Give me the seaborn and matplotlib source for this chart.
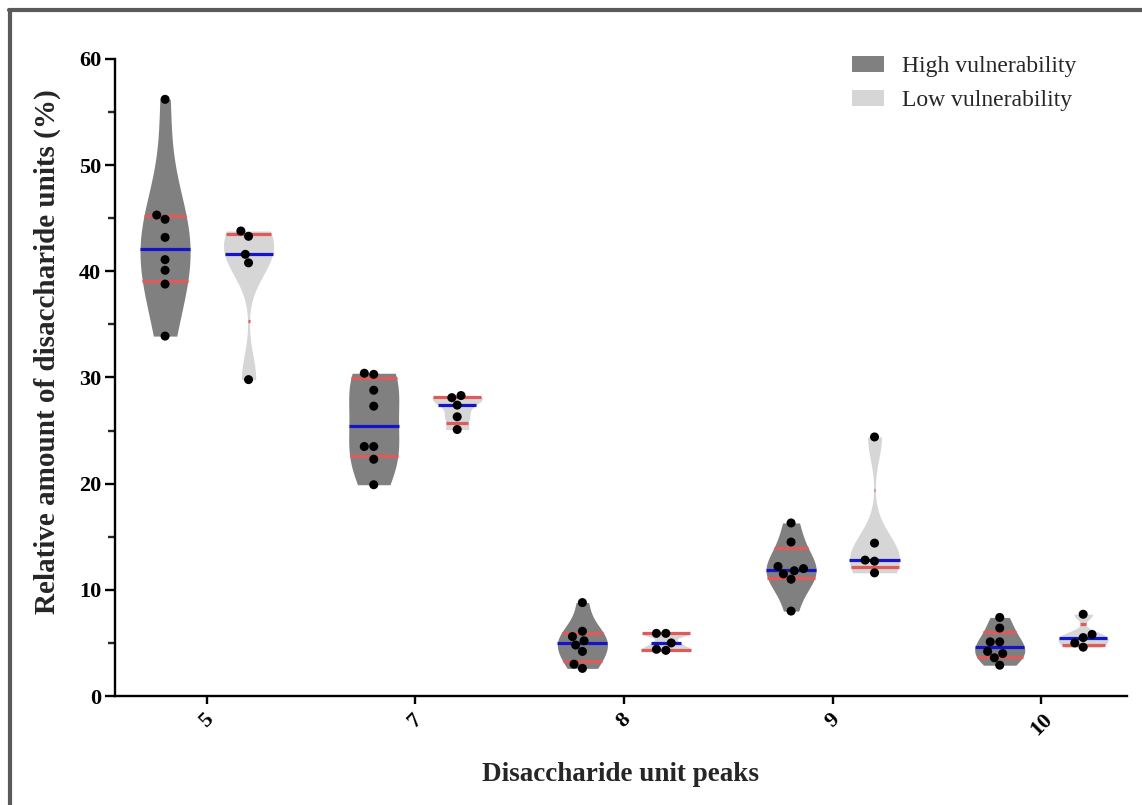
import numpy as np
import pandas as pd
import matplotlib
matplotlib.use("Agg")
import matplotlib.pyplot as plt
from matplotlib.patches import Patch
from matplotlib.lines import Line2D
from matplotlib.ticker import MultipleLocator
import seaborn as sns

# ---------------- data ----------------
peaks = ["5", "7", "8", "9", "10"]
groups = ["High vulnerability", "Low vulnerability"]

high_5 = [56.2, 45.3, 44.9, 43.2, 41.1, 40.1, 38.8, 33.9]
low_5 = [43.8, 43.3, 41.6, 40.8, 29.8]
high_7 = [30.4, 30.3, 28.8, 27.3, 23.5, 23.5, 22.3, 19.9]
low_7 = [28.3, 28.1, 27.4, 26.3, 25.1]
high_8 = [8.8, 6.1, 5.6, 5.2, 4.8, 4.2, 3.0, 2.6]
low_8 = [5.9, 5.9, 5.0, 4.4, 4.3]
high_9 = [16.3, 14.5, 12.2, 12.0, 11.8, 11.5, 11.0, 8.0]
low_9 = [24.4, 14.4, 12.8, 12.7, 11.6]
high_10 = [7.4, 6.4, 5.1, 5.1, 4.2, 4.0, 3.6, 2.9]
low_10 = [7.7, 5.8, 5.5, 5.0, 4.6]

high_values = [high_5, high_7, high_8, high_9, high_10]
low_values = [low_5, low_7, low_8, low_9, low_10]

violin_colors = ["#808080", "#d6d6d6"]
group_bw = [1.1, 0.55]
median_color = "#1414c8"
quart_color = "#e05a5a"
frame_color = "#5a5a5a"

rows = []
for p, hv, lv in zip(peaks, high_values, low_values):
    for v in hv:
        rows.append((p, groups[0], v))
    for v in lv:
        rows.append((p, groups[1], v))
df = pd.DataFrame(rows, columns=["peak", "group", "value"])
data_lookup = {(i, 0): high_values[i] for i in range(len(peaks))}
data_lookup.update({(i, 1): low_values[i] for i in range(len(peaks))})


def violin_id(coll):
    verts = coll.get_paths()[0].vertices
    cx = (verts[:, 0].min() + verts[:, 0].max()) / 2
    ci = int(round(cx))
    hi = 0 if cx < ci else 1
    return verts, cx, ci, hi


# ---------------- style ----------------
sns.set_style("ticks")
plt.rcParams["font.family"] = ["Liberation Serif", "DejaVu Serif"]

fig = plt.figure(figsize=(11.42, 8.05), dpi=100)
ax = fig.add_axes([115 / 1142, 1 - 696 / 805, (1127 - 115) / 1142, (696 - 59) / 805])

# each group gets its own KDE smoothing: draw all, keep that group's violins
for gi, bw in enumerate(group_bw):
    n_before = len(ax.collections)
    sns.violinplot(
        data=df, x="peak", y="value", hue="group",
        order=peaks, hue_order=groups, palette=violin_colors,
        cut=0, inner=None, density_norm="width", width=0.8, gap=0.4,
        bw_adjust=bw, linewidth=0, saturation=1, legend=False, ax=ax,
    )
    for coll in list(ax.collections[n_before:]):
        if violin_id(coll)[3] != gi:
            coll.remove()

# median (blue) and quartile (red) lines, spanning the violin width
for coll in list(ax.collections):
    verts, cx, ci, hi = violin_id(coll)
    vals = np.asarray(data_lookup[(ci, hi)])
    q1, med, q3 = np.percentile(vals, [25, 50, 75], method="weibull")
    right = verts[verts[:, 0] >= cx]
    order = np.argsort(right[:, 1])
    ys, xs = right[order, 1], right[order, 0]
    for q, col in [(q1, quart_color), (q3, quart_color), (med, median_color)]:
        half = np.interp(q, ys, xs) - cx
        half = max(half, 0.004)
        ax.plot([cx - half, cx + half], [q, q], color=col, lw=2.3,
                solid_capstyle="butt", zorder=2)

sns.swarmplot(
    data=df, x="peak", y="value", hue="group",
    order=peaks, hue_order=groups, palette=["black", "black"],
    dodge=True, size=6.5, legend=False, zorder=3, ax=ax,
)

# ---------------- axes ----------------
ax.set_ylim(0, 60)
ax.set_xlim(-0.44, 4.41)
ax.yaxis.set_major_locator(MultipleLocator(10))
ax.yaxis.set_minor_locator(MultipleLocator(5))
sns.despine(ax=ax)
for s in ["left", "bottom"]:
    ax.spines[s].set_linewidth(1.7)
    ax.spines[s].set_color("black")
ax.tick_params(axis="y", which="major", length=7, width=1.7, pad=3,
               labelsize=16, colors="black")
ax.tick_params(axis="y", which="minor", length=5, width=1.7)
ax.tick_params(axis="x", which="major", length=6, width=1.7, pad=4,
               labelsize=16, colors="black")
for lab in ax.get_yticklabels():
    lab.set_fontweight("bold")
for lab in ax.get_xticklabels():
    lab.set_fontweight("bold")
    lab.set_rotation(45)
    lab.set_ha("center")

ax.set_xlabel("Disaccharide unit peaks", fontsize=19.5, fontweight="bold")
ax.set_ylabel("Relative amount of disaccharide units (%)", fontsize=21,
              fontweight="bold")
ax.xaxis.set_label_coords(0.5, -0.104)
ax.yaxis.set_label_coords(-0.053, 0.54)

handles = [Patch(facecolor=c, edgecolor="none") for c in violin_colors]
ax.legend(handles, groups, loc="upper left", bbox_to_anchor=(852 / 1142, 1 - 56 / 805),
          bbox_transform=fig.transFigure, frameon=False,
          prop={"family": ["Liberation Serif"], "size": 17},
          handlelength=1.35, handleheight=0.65, handletextpad=0.75,
          labelspacing=0.55, borderpad=0, borderaxespad=0)

# outer frame (left and top)
fig.add_artist(Line2D([10 / 1142, 10 / 1142], [0, 1 - 10 / 805],
                      transform=fig.transFigure, color=frame_color, lw=3))
fig.add_artist(Line2D([8.5 / 1142, 1], [1 - 10 / 805, 1 - 10 / 805],
                      transform=fig.transFigure, color=frame_color, lw=3))

fig.savefig("out.png", dpi=100)
